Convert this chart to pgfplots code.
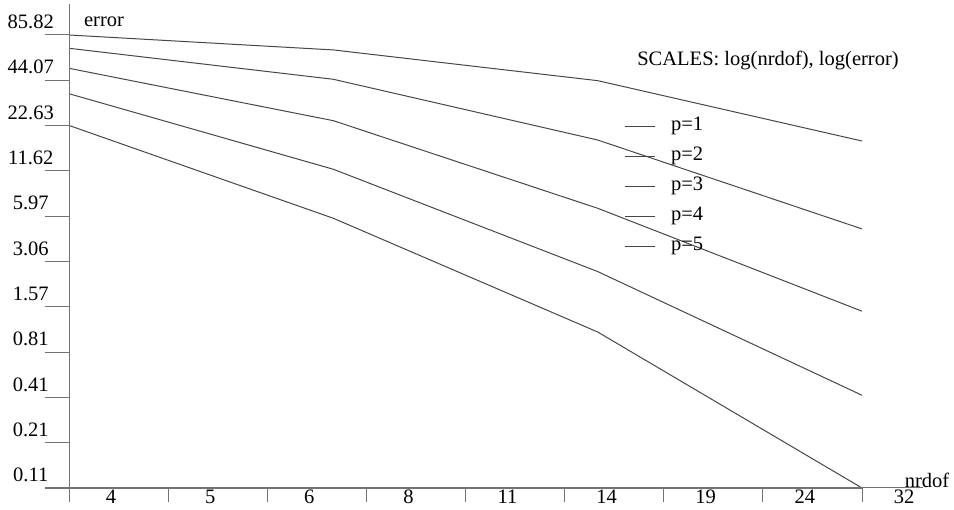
\documentclass[border=0pt]{standalone}
\usepackage{fontspec}
\setmainfont{Liberation Serif}
\usepackage{pgfplots}
\pgfplotsset{compat=1.18}
\newcommand\fs{\fontsize{20.5}{24}\selectfont}
\colorlet{axcol}{black!55}
\colorlet{lncol}{black!72}

\begin{document}
\begin{tikzpicture}[font=\fs]
\path[use as bounding box] (0pt,0pt) rectangle (954pt,-510pt);
\begin{axis}[
  at={(69pt,-488pt)}, anchor=south west,
  scale only axis, width=793pt, height=453pt,
  xmode=log, ymode=log,
  xmin=4, xmax=32, ymin=0.11, ymax=85.82,
  axis x line=bottom, axis y line=left,
  axis line style={-, color=axcol, line width=1pt},
  tick align=outside,
  xtick={4,5.18736,6.72717,8.72406,11.31371,14.67216,19.02731,24.67529,32},
  xticklabels={4,5,6,8,11,14,19,24,32},
  ytick={0.11,0.214098,0.416711,0.811065,1.578620,3.072536,5.980205,11.63953,22.65449,44.09327,85.82},
  yticklabels={0.11,0.21,0.41,0.81,1.57,3.06,5.97,11.62,22.63,44.07,85.82},
  xtick style={color=axcol, line width=1pt, /pgfplots/major tick length=14pt},
  ytick style={color=axcol, line width=1pt, /pgfplots/major tick length=24pt},
  xticklabel style={anchor=north, xshift=42pt, yshift=6pt},
  yticklabel style={anchor=center, xshift=-34pt, yshift=13pt},
  clip=false,
  legend style={draw=none, fill=none, at={(0.696,0.824)}, anchor=north west,
    row sep=11pt, column sep=16pt, legend cell align=left,
    nodes={inner sep=0pt, text height=14pt, text depth=5pt}},
  legend image code/.code={\draw[#1] (0pt,0pt) -- (30pt,0pt);},
]
\addplot[lncol, line width=1pt] coordinates {(4,85.82) (8,68.9) (16,43.86) (32,18.06)};
\addlegendentry{p=1}
\addplot[lncol, line width=1pt] coordinates {(4,70.6) (8,44.75) (16,18.33) (32,4.96)};
\addlegendentry{p=2}
\addplot[lncol, line width=1pt] coordinates {(4,52.6) (8,24.35) (16,6.72) (32,1.48)};
\addlegendentry{p=3}
\addplot[lncol, line width=1pt] coordinates {(4,36.2) (8,11.92) (16,2.65) (32,0.43)};
\addlegendentry{p=4}
\addplot[lncol, line width=1pt] coordinates {(4,22.7) (8,5.80) (16,1.09) (32,0.11)};
\addlegendentry{p=5}
\end{axis}
% axis lines run past the plotted range, as in the reference
\draw[axcol, line width=1pt] (45pt,-488pt) -- (923pt,-488pt);
\draw[axcol, line width=1pt] (69pt,-502pt) -- (69pt,-4pt);
\node at (104pt,-22pt) {error};
\node at (927pt,-480pt) {nrdof};
\node at (768pt,-60pt) {SCALES: log(nrdof), log(error)};
\end{tikzpicture}
\end{document}
